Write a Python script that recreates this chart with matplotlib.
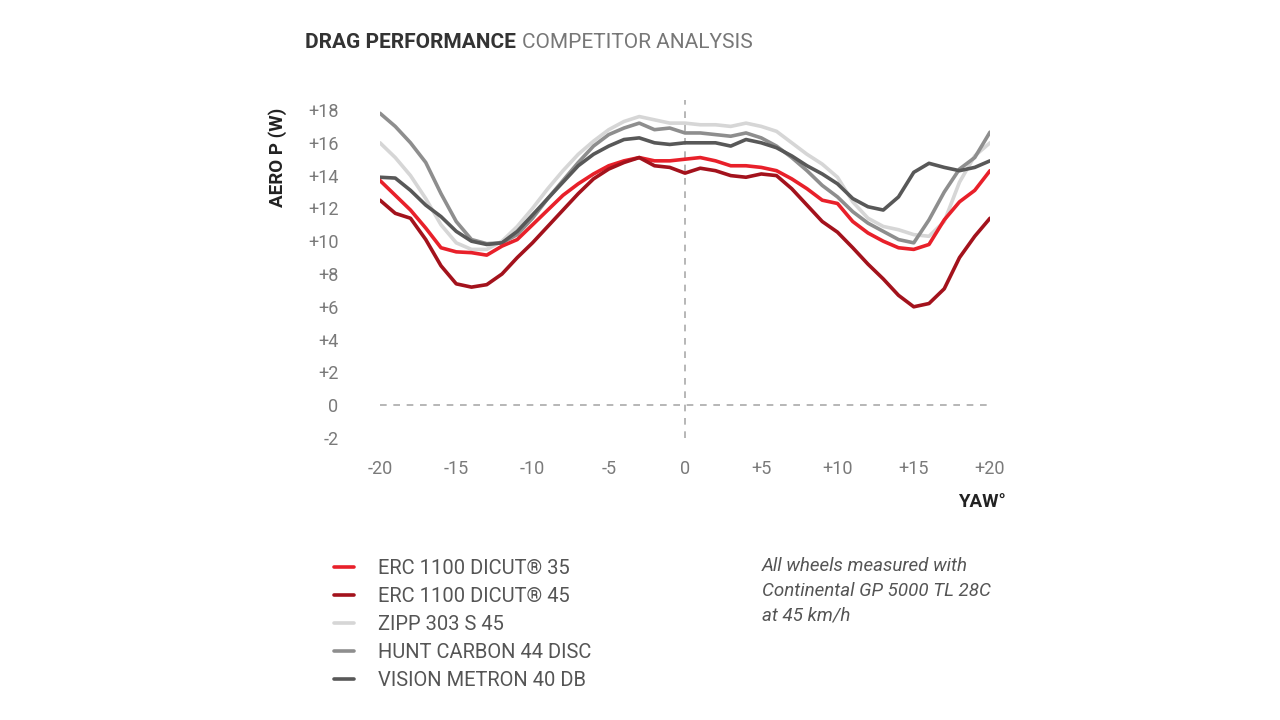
import matplotlib
matplotlib.use("Agg")
import matplotlib.pyplot as plt

plt.rcParams['font.family'] = ['Roboto', 'DejaVu Sans']

yaw = list(range(-20, 21))

erc35 = [13.7, 12.8, 11.9, 10.8, 9.6, 9.35, 9.3, 9.15, 9.7, 10.1, 11.0,
         11.9, 12.8, 13.5, 14.1, 14.6, 14.9, 15.1, 14.9, 14.9, 15.0,
         15.1, 14.9, 14.6, 14.6, 14.5, 14.3, 13.8, 13.2, 12.5, 12.3,
         11.2, 10.5, 10.0, 9.6, 9.5, 9.8, 11.3, 12.4, 13.1, 14.3]
erc45 = [12.5, 11.7, 11.4, 10.1, 8.5, 7.4, 7.2, 7.35, 8.0, 9.0, 9.9,
         10.9, 11.9, 12.9, 13.8, 14.4, 14.8, 15.1, 14.6, 14.5, 14.15,
         14.45, 14.3, 14.0, 13.9, 14.1, 14.0, 13.2, 12.2, 11.2, 10.55,
         9.6, 8.6, 7.7, 6.7, 6.0, 6.2, 7.1, 9.0, 10.3, 11.4]
zipp = [16.0, 15.1, 14.0, 12.6, 11.0, 9.9, 9.5, 9.5, 10.0, 10.9, 12.0,
        13.2, 14.3, 15.3, 16.1, 16.8, 17.3, 17.6, 17.4, 17.2, 17.2,
        17.1, 17.1, 17.0, 17.2, 17.0, 16.7, 16.0, 15.3, 14.7, 13.9,
        12.4, 11.4, 10.9, 10.7, 10.4, 10.3, 11.2, 13.6, 15.2, 16.0]
hunt = [17.8, 17.0, 16.0, 14.8, 12.9, 11.2, 10.1, 9.85, 9.9, 10.4, 11.4,
        12.6, 13.7, 14.8, 15.8, 16.5, 16.9, 17.2, 16.8, 16.9, 16.6,
        16.6, 16.5, 16.4, 16.6, 16.3, 15.8, 15.1, 14.3, 13.4, 12.7,
        11.8, 11.1, 10.6, 10.1, 9.9, 11.3, 13.0, 14.4, 15.1, 16.65]
vision = [13.9, 13.85, 13.1, 12.2, 11.5, 10.6, 10.0, 9.8, 9.9, 10.6, 11.6,
          12.6, 13.6, 14.6, 15.3, 15.8, 16.2, 16.3, 16.0, 15.9, 16.0,
          16.0, 16.0, 15.8, 16.2, 16.0, 15.7, 15.2, 14.6, 14.1, 13.5,
          12.6, 12.1, 11.9, 12.7, 14.2, 14.75, 14.5, 14.3, 14.5, 14.9]

names = ["ERC 1100 DICUT® 35", "ERC 1100 DICUT® 45", "ZIPP 303 S 45",
         "HUNT CARBON 44 DISC", "VISION METRON 40 DB"]
colors = ["#e8202a", "#a3121c", "#d6d6d6", "#8e8e8e", "#585858"]

xticks = [-20, -15, -10, -5, 0, 5, 10, 15, 20]
yticks = list(range(-2, 19, 2))

fig = plt.figure(figsize=(12.8, 7.2), dpi=100)
ax = fig.add_axes([380 / 1280, 1 - 438 / 720, 610 / 1280, 328 / 720])

# reference lines
ax.axhline(0, color="#aaaaaa", lw=1.2, ls=(0, (4, 4)), zorder=1)
ax.axvline(0, color="#aaaaaa", lw=1.2, ls=(0, (4, 4)), ymin=0, ymax=1.03,
           clip_on=False, zorder=1)

all_data = [erc35, erc45, zipp, hunt, vision]
lines = {}
for idx in [2, 3, 4, 0, 1]:
    ln, = ax.plot(yaw, all_data[idx], color=colors[idx], lw=2.6,
                  solid_capstyle="round", solid_joinstyle="round", zorder=3)
    lines[idx] = ln

ax.set_xlim(-20, 20)
ax.set_ylim(-2, 18)
for s in ax.spines.values():
    s.set_visible(False)

ax.set_xticks(xticks)
ax.set_xticklabels([("+%d" % t if t > 0 else str(t)) for t in xticks])
ax.set_yticks(yticks)
ax.set_yticklabels([("+%d" % t if t > 0 else str(t)) for t in yticks])
ax.tick_params(axis="both", length=0, labelsize=13, labelcolor="#7a7a7a")
ax.tick_params(axis="y", pad=30)
ax.tick_params(axis="x", pad=16)

# title: bold part then light part right after it
t1 = fig.text(305 / 1280, 1 - 43 / 720, "DRAG PERFORMANCE", fontsize=15,
              fontweight="bold", color="#333333", va="center", ha="left")
fig.canvas.draw()
bb = t1.get_window_extent()
fig.text((bb.x1 + 6) / 1280, 1 - 43 / 720, "COMPETITOR ANALYSIS", fontsize=15,
         color="#777777", va="center", ha="left")

# axis labels
fig.text(278 / 1280, 1 - 157 / 720, "AERO P (W)", rotation=90, fontsize=13.5,
         fontweight="bold", color="#222222", va="center", ha="center")
fig.text(1006 / 1280, 1 - 502 / 720, "YAW°", fontsize=13.5, fontweight="bold",
         color="#222222", va="center", ha="right")

# legend
leg = fig.legend([lines[i] for i in range(5)], names,
                 loc="upper left", bbox_to_anchor=(326 / 1280, 1 - 551 / 720),
                 frameon=False, fontsize=14.5, handlelength=1.0,
                 handletextpad=1.2, labelspacing=0.45, borderaxespad=0)
for t in leg.get_texts():
    t.set_color("#555555")

# note
fig.text(762 / 1280, 1 - 591 / 720,
         "All wheels measured with\nContinental GP 5000 TL 28C\nat 45 km/h",
         fontsize=13.5, style="italic", color="#555555", va="center",
         ha="left", linespacing=1.5)

fig.savefig("out.png", dpi=100, facecolor="white")
